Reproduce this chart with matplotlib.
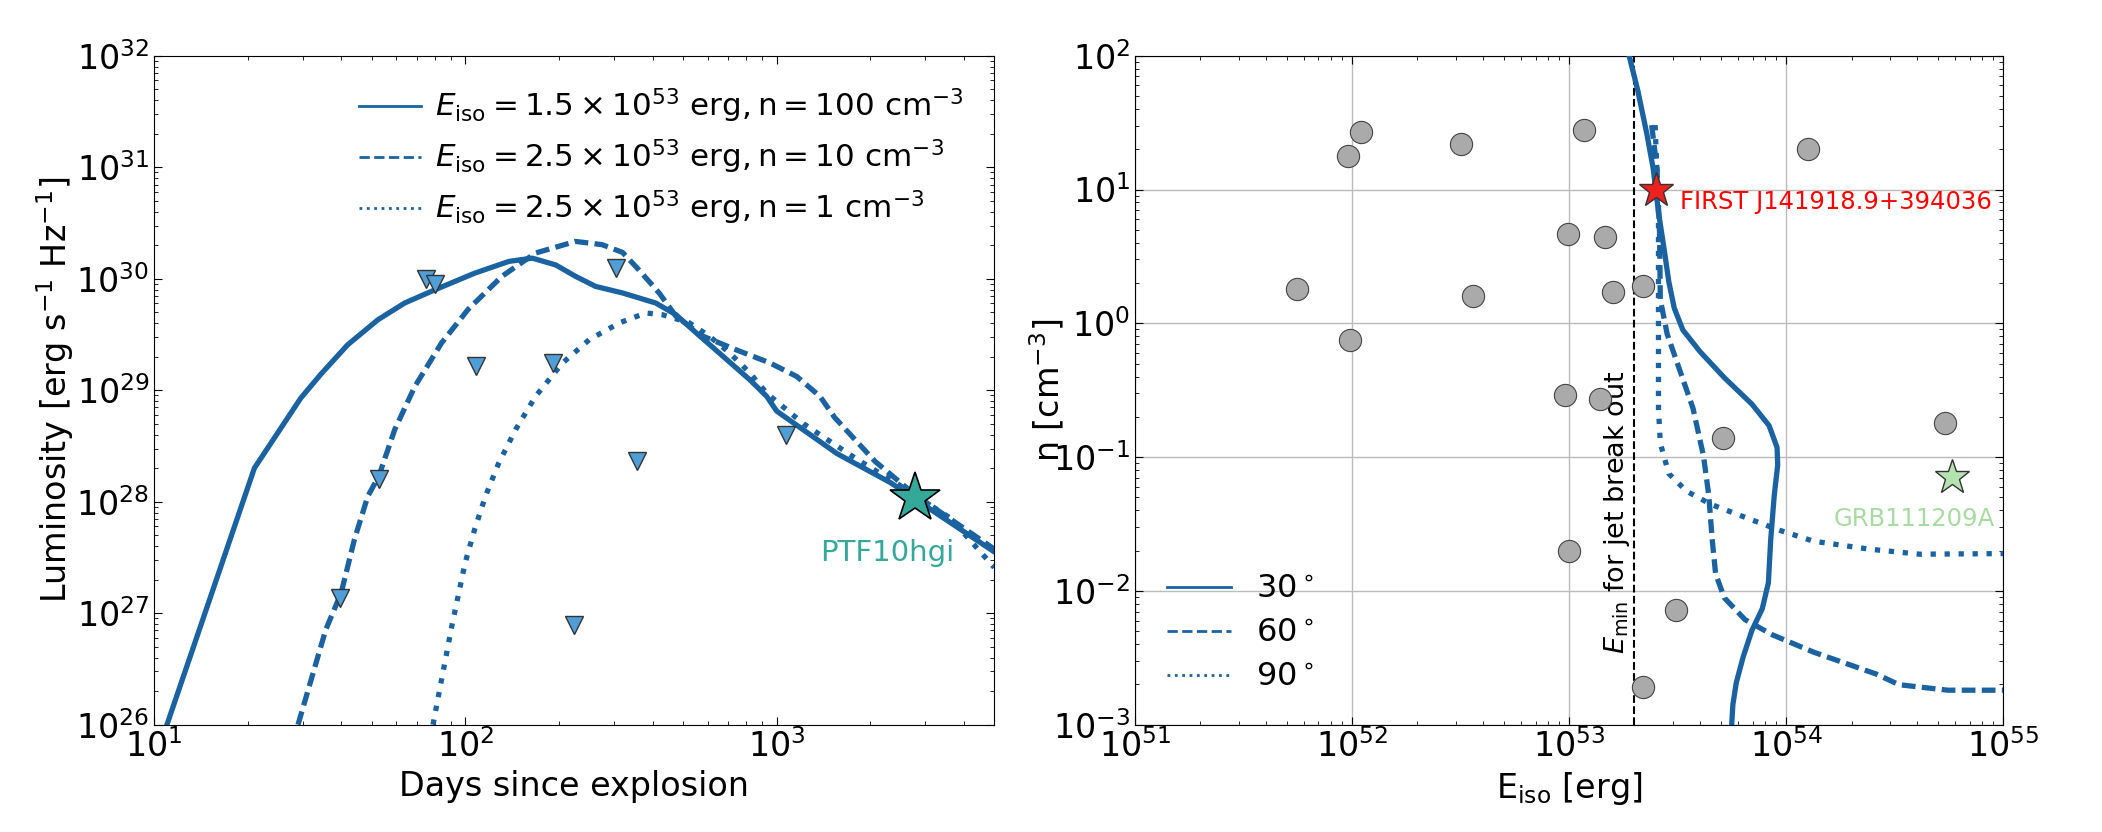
import numpy as np
import matplotlib
matplotlib.use("Agg")
import matplotlib.pyplot as plt
from matplotlib.lines import Line2D

line_c = "#1b62a0"

# ---- left panel: radio light curves ----
solid_days = [11, 21, 29.6, 34.4, 41.9, 52.4, 63.8, 79.7, 107, 138, 164, 195,
              226, 262, 320, 409, 475, 552, 673, 820, 929, 1000, 1563, 2323, 5000]
solid_lum = [1e26, 2.0e28, 8.5e28, 1.4e29, 2.56e29, 4.29e29, 6.05e29, 7.94e29,
             1.12e30, 1.43e30, 1.53e30, 1.33e30, 1.05e30, 8.53e29, 7.45e29,
             6.05e29, 4.75e29, 3.26e29, 2.01e29, 1.24e29, 8.8e28, 6.5e28, 2.7e28,
             1.48e28, 3.55e27]

dash_days = [29, 35.6, 39.9, 44, 48.6, 52.7, 59.3, 68.8, 83.8, 102, 131, 168,
             226, 275, 320, 361, 420, 475, 580, 742, 950, 1159, 1378, 1535, 2070,
             2786, 5000]
dash_lum = [1e26, 7.1e26, 1.52e27, 4.57e27, 1.12e28, 1.69e28, 4.43e28, 1.08e29,
            2.65e29, 5.3e29, 1.05e30, 1.7e30, 2.16e30, 2.02e30, 1.72e30, 1.2e30,
            7.4e29, 4.6e29, 3.05e29, 2.3e29, 1.76e29, 1.33e29, 8.8e28, 5.7e28,
            2.3e28, 1.15e28, 3.76e27]

dot_days = [78.7, 90.4, 99.8, 107, 116, 128, 145, 168, 205, 250, 312, 380, 430,
            525, 608, 706, 820, 929, 1220, 1812, 2440, 3620, 5000]
dot_lum = [1e26, 7.6e26, 2.82e27, 5.6e27, 1.12e28, 2.22e28, 4.43e28, 8.8e28,
           1.75e29, 2.84e29, 4.01e29, 4.93e29, 4.75e29, 4.01e29, 3.05e29, 2.16e29,
           1.43e29, 9.4e28, 5.0e28, 2.4e28, 1.45e28, 7.1e27, 2.57e27]

lim_days = [75, 80, 108, 191, 305, 52.7, 39.5, 356, 224, 1072]
lim_lum = [1.0e30, 8.9e29, 1.66e29, 1.75e29, 1.24e30, 1.6e28, 1.37e27, 2.3e28,
           7.8e26, 4.0e28]

ptf_day, ptf_lum = 2786, 1.07e28

left_labels = [r"$E_{\rm iso} = 1.5\times10^{53}\ {\rm erg, n = 100\ cm^{-3}}$",
               r"$E_{\rm iso} = 2.5\times10^{53}\ {\rm erg, n = 10\ cm^{-3}}$",
               r"$E_{\rm iso} = 2.5\times10^{53}\ {\rm erg, n = 1\ cm^{-3}}$"]

# ---- right panel: E_iso vs n ----
grb_E = [1.1e52, 9.6e51, 3.19e52, 1.17e53, 1.26e54, 9.9e52, 1.46e53, 5.6e51,
         3.6e52, 1.59e53, 2.2e53, 9.8e51, 9.6e52, 1.39e53, 5.1e53, 5.4e54,
         1.0e53, 3.1e53, 2.2e53]
grb_n = [27, 17.9, 22, 28, 20, 4.67, 4.4, 1.8, 1.6, 1.72, 1.9, 0.75, 0.29, 0.27,
         0.14, 0.18, 0.02, 0.0072, 0.0019]

c30_E = [1.89e53, 2.07e53, 2.28e53, 2.44e53, 2.58e53, 2.73e53, 2.88e53, 3.05e53,
         3.34e53, 4.01e53, 5.19e53, 6.95e53, 8.34e53, 9.08e53, 9.14e53, 8.81e53,
         8.49e53, 8.28e53, 7.76e53, 6.95e53, 6.34e53, 5.89e53, 5.68e53, 5.61e53]
c30_n = [100, 55.3, 26.1, 14.3, 6.78, 3.72, 2.04, 1.30, 0.893, 0.614, 0.392,
         0.249, 0.172, 0.118, 0.0873, 0.0516, 0.0244, 0.0115, 0.00735, 0.00506,
         0.00322, 0.00206, 0.00141, 0.001]

c60_E = [2.4e53, 2.54e53, 2.61e53, 2.63e53, 2.83e53, 3.22e53, 3.72e53, 4.16e53,
         4.4e53, 4.56e53, 4.73e53, 5.19e53, 6.46e53, 8.65e53, 1.34e54, 2.6e54,
         3.31e54, 5.55e54, 1e55]
c60_n = [30.3, 14.3, 4.66, 1.51, 0.83, 0.455, 0.232, 0.102, 0.0516, 0.0244,
         0.0134, 0.00887, 0.0061, 0.00469, 0.00348, 0.00239, 0.00199, 0.00181,
         0.00181]

c90_E = [2.49e53, 2.58e53, 2.58e53, 2.58e53, 2.63e53, 2.88e53, 3.47e53, 4.48e53,
         6.46e53, 9.31e53, 1.34e54, 2.42e54, 4.13e54, 1e55]
c90_n = [30.3, 6.78, 1.04, 0.232, 0.127, 0.0752, 0.0557, 0.0445, 0.0355, 0.0284,
         0.0235, 0.0205, 0.0188, 0.019]

first_E, first_n = 2.5e53, 10
grb111_E, grb111_n = 5.8e54, 0.0705
E_min = 2e53
angle_labels = [r"30$^\circ$", r"60$^\circ$", r"90$^\circ$"]

fs = 24
fig = plt.figure(figsize=(21.02, 8.32), dpi=100)
ax1 = fig.add_axes([0.0733, 0.129, 0.3997, 0.804])
ax2 = fig.add_axes([0.540, 0.129, 0.413, 0.804])

lw = 3.8
ax1.plot(solid_days, solid_lum, color=line_c, lw=lw, solid_joinstyle="round")
ax1.plot(dash_days, dash_lum, color=line_c, lw=lw, dashes=(2.6, 1.2))
ax1.plot(dot_days, dot_lum, color=line_c, lw=lw, ls=":")
ax1.plot(lim_days, lim_lum, ls="none", marker="v", ms=13, mfc="#4f9fd6",
         mec="#333333", mew=1, zorder=5)
ax1.plot(ptf_day, ptf_lum, ls="none", marker="*", ms=38, mfc="#36a89a",
         mec="black", mew=1.2, zorder=6)
ax1.text(2265, 3.5e27, "PTF10hgi", color="#36a89a", fontsize=21, ha="center",
         va="center")
ax1.set_xscale("log")
ax1.set_yscale("log")
ax1.set_xlim(10, 5000)
ax1.set_ylim(1e26, 1e32)
ax1.set_xlabel("Days since explosion", fontsize=fs)
ax1.set_ylabel(r"Luminosity [erg s$^{-1}$ Hz$^{-1}$]", fontsize=fs, labelpad=0)
h1 = [Line2D([], [], color=line_c, lw=2),
      Line2D([], [], color=line_c, lw=2, ls="--"),
      Line2D([], [], color=line_c, lw=2, ls=":")]
ax1.legend(h1, left_labels, loc="upper right", frameon=False, fontsize=22.3,
           handlelength=2.0, handletextpad=0.45, borderaxespad=0.6,
           labelspacing=0.4)

ax2.grid(True, which="major", color="#bbbbbb", lw=1, zorder=0)
ax2.axvline(E_min, color="black", lw=1.5, ls="--", zorder=2)
ax2.text(E_min * 0.975, 0.0034, r"$E_{\rm min}$ for jet break out", rotation=90,
         fontsize=19.5, ha="right", va="bottom")
ax2.plot(grb_E, grb_n, ls="none", marker="o", ms=16, mfc="#aaaaaa",
         mec="#444444", mew=0.8, zorder=3)
ax2.plot(c30_E, c30_n, color=line_c, lw=lw, zorder=4)
ax2.plot(c60_E, c60_n, color=line_c, lw=lw, dashes=(2.6, 1.2), zorder=4)
ax2.plot(c90_E, c90_n, color=line_c, lw=lw, ls=":", zorder=4)
ax2.plot(first_E, first_n, ls="none", marker="*", ms=26, mfc="#ee2020",
         mec="#333333", mew=1, zorder=6)
ax2.text(first_E * 1.3, 8.0, "FIRST J141918.9+394036", color="red",
         fontsize=17.5, ha="left", va="center")
ax2.plot(grb111_E, grb111_n, ls="none", marker="*", ms=26, mfc="#b5e3b0",
         mec="#333333", mew=1, zorder=6)
ax2.text(3.9e54, 0.0345, "GRB111209A", color="#a8dba2", fontsize=17.5,
         ha="center", va="center")
ax2.set_xscale("log")
ax2.set_yscale("log")
ax2.set_xlim(1e51, 1e55)
ax2.set_ylim(1e-3, 1e2)
ax2.set_xlabel(r"E$_{\rm iso}$ [erg]", fontsize=fs)
ax2.set_ylabel(r"n [cm$^{-3}$]", fontsize=fs, labelpad=-10)
h2 = [Line2D([], [], color=line_c, lw=2),
      Line2D([], [], color=line_c, lw=2, ls="--"),
      Line2D([], [], color=line_c, lw=2, ls=":")]
ax2.legend(h2, angle_labels, loc="lower left", frameon=False, fontsize=23,
           handlelength=2.0, borderaxespad=0.6, labelspacing=0.4)

for ax in (ax1, ax2):
    ax.tick_params(which="both", direction="in", top=True, right=True,
                   labelsize=fs)
    ax.tick_params(which="major", length=6)
    ax.tick_params(which="minor", length=3)

fig.savefig("out.png", dpi=100)
